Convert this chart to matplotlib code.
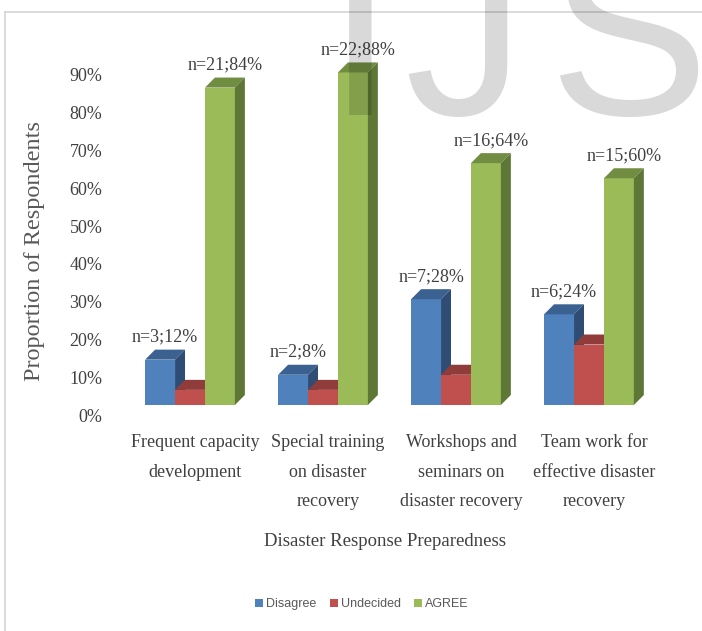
import numpy as np
import matplotlib
matplotlib.use("Agg")
import matplotlib.pyplot as plt
from matplotlib.patches import Polygon
from matplotlib.lines import Line2D
from matplotlib.transforms import ScaledTranslation

# data
categories = ["Frequent capacity\ndevelopment",
              "Special training\non disaster\nrecovery",
              "Workshops and\nseminars on\ndisaster recovery",
              "Team work for\neffective disaster\nrecovery"]
series = ["Disagree", "Undecided", "AGREE"]
disagree = [12, 8, 28, 24]
undecided = [4, 4, 8, 16]
agree = [84, 88, 64, 60]
disagree_n = [3, 2, 7, 6]
agree_n = [21, 22, 16, 15]

# front / top / side colours for the fake 3D bars
front = ["#4F81BD", "#C0504D", "#9BBB59"]
top = ["#3B6191", "#903C3A", "#718D42"]
side = ["#2F4D74", "#7A3230", "#5E7636"]

plt.rcParams["font.family"] = ["Liberation Serif", "DejaVu Serif"]
txt = "#404040"

fig = plt.figure(figsize=(7.02, 6.31), dpi=100)
ax = fig.add_axes([140 / 702, 226 / 631, 520 / 702, 359 / 631])

W, H = 702, 631
ax.set_xlim(-0.376, 3.534)
ax.set_ylim(0, 95)

x = np.arange(len(categories))
w = 0.225           # bar width
dx, dy = 0.075, 2.65  # depth of the bars

values = [disagree, undecided, agree]
for g in range(len(categories)):
    for s in range(3):
        xc = x[g] + (s - 1) * w
        v = values[s][g]
        l, r = xc - w / 2, xc + w / 2
        ax.bar(xc, v, width=w, color=front[s], zorder=2 + s + 3 * g,
               label=series[s] if g == 0 else None)
        ax.add_patch(Polygon([(l, v), (r, v), (r + dx, v + dy), (l + dx, v + dy)],
                             closed=True, color=top[s], lw=0, zorder=2 + s + 3 * g))
        ax.add_patch(Polygon([(r, 0), (r, v), (r + dx, v + dy), (r + dx, dy)],
                             closed=True, color=side[s], lw=0, zorder=2 + s + 3 * g))

# labels on Disagree and AGREE bars
for g in range(len(categories)):
    for s, vals, ns in [(0, disagree, disagree_n), (2, agree, agree_n)]:
        xc = x[g] + (s - 1) * w + dx / 2
        ax.annotate(f"n={ns[g]};{vals[g]}%", (xc, vals[g] + dy),
                    xytext=(0, 3), textcoords="offset points",
                    ha="center", va="bottom", fontsize=13, color=txt,
                    zorder=30, annotation_clip=False)

for sp in ax.spines.values():
    sp.set_visible(False)

ax.set_xticks(x + dx / 2)
ax.set_xticklabels(categories, fontsize=13, color=txt, linespacing=1.95)
ax.tick_params(axis="x", length=0, pad=21)
ax.set_yticks(np.arange(0, 100, 10))
ax.set_yticklabels([f"{t}%" for t in range(0, 100, 10)], fontsize=13, color=txt)
ax.tick_params(axis="y", length=0, pad=27)
shift = ScaledTranslation(0, -0.10, fig.dpi_scale_trans)
for lab in ax.get_yticklabels():
    lab.set_transform(lab.get_transform() + shift)

fig.text(35 / W, 1 - 251 / H, "Proportion of Respondents", rotation=90,
         ha="center", va="center", fontsize=17.5, color="#595959")
fig.text(385 / W, 1 - 541 / H, "Disaster Response Preparedness",
         ha="center", va="center", fontsize=13.5, color=txt)

leg = fig.legend(loc="center", bbox_to_anchor=(362 / W, 1 - 604 / H), ncol=3,
                 frameon=False, handlelength=0.6, handleheight=0.6,
                 handletextpad=0.25, columnspacing=1.1,
                 prop={"family": "Liberation Sans", "size": 9})
for t in leg.get_texts():
    t.set_color("#595959")

# frame lines of the original figure box
fig.add_artist(Line2D([5 / W, 1], [1 - 12 / H, 1 - 12 / H], color="#d4d4d4", lw=1.2))
fig.add_artist(Line2D([5 / W, 5 / W], [0, 1 - 12 / H], color="#d4d4d4", lw=1.2))

# watermark
for ch, xp in [("I", 360), ("J", 464), ("S", 628)]:
    fig.text(xp / W, 1 - 115 / H, ch, fontsize=173, family="Liberation Sans",
             color="black", alpha=0.15, ha="center", va="baseline", zorder=50)

fig.savefig("out.png", dpi=100)
